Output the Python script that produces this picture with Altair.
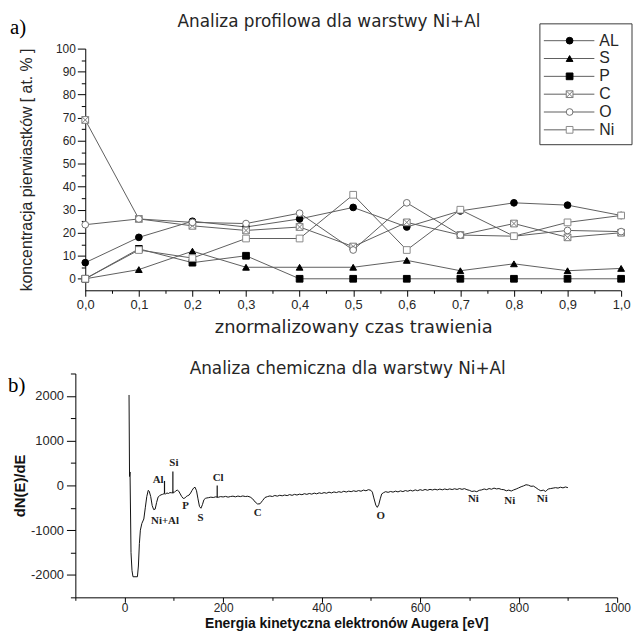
import altair as alt
import pandas as pd

# ---------------- panel a) : depth profile ----------------
t_vals = [0.0, 0.1, 0.2, 0.3, 0.4, 0.5, 0.6, 0.7, 0.8, 0.9, 1.0]
AL = [7, 18, 25, 22.5, 26, 31, 22.5, 29.5, 33, 32, 27.5]
S_ = [0, 4, 12, 5, 5, 5, 8, 3.5, 6.5, 3.5, 4.5]
P_ = [0, 13, 7, 10, 0, 0, 0, 0, 0, 0, 0]
C_ = [69, 26, 23, 21, 22.5, 14, 24.5, 19, 24, 18, 20]
O_ = [23.5, 26, 24.5, 24, 28.5, 12.5, 33, 19, 18.5, 21, 20.5]
Ni = [0, 12.5, 9, 17.5, 17.5, 36.5, 12.5, 30, 18.5, 24.5, 27.5]
series_names = ["AL", "S", "P", "C", "O", "Ni"]

# ---------------- panel b) : Auger spectrum ----------------
energy = [9, 10, 11, 13, 15, 17, 26, 28, 30, 32, 35, 39, 42, 45, 48, 50, 53, 56, 59, 62,
          65, 68, 71, 74, 77, 80, 83, 86, 89, 92, 95, 98, 101, 104, 107, 110, 113, 116, 119, 122,
          125, 128, 131, 134, 137, 140, 143, 146, 149, 152, 155, 158, 161, 164, 167,
          170, 175, 180, 185, 190, 195, 200, 205, 210, 215, 220, 225, 230, 235, 240, 245, 250,
          255, 260, 265, 270, 275, 280, 285, 290, 295, 300, 305, 310, 315, 320, 325, 330, 335,
          340, 345, 350, 355, 360, 365, 370, 375, 380, 385, 390, 395, 400, 405, 410, 415, 420,
          425, 430, 435, 440, 445, 450, 455, 460, 465, 470, 475, 480, 485, 490, 495, 500,
          503, 506, 510, 513, 516, 519, 522, 526, 530, 535, 540, 545, 550, 555, 560, 565, 570,
          575, 580, 585, 590, 595, 600, 605, 610, 615, 620, 625, 630, 635, 640, 645, 650, 655,
          660, 665, 670, 675, 680, 685, 690, 695, 700, 705, 710, 715, 720, 725, 730, 735, 740,
          745, 750, 755, 760, 765, 770, 775, 780, 785, 790, 795, 800, 805, 810, 815, 820, 825,
          830, 835, 840, 845, 850, 855, 860, 865, 870, 875, 880, 885, 890, 895, 900]
dnde = [2020, 200, 300, -1500, -1900, -2040, -2040, -1800, -1300, -1000, -850, -750, -500, -250, -110, -130,
        -250, -450, -540, -530, -380, -260, -230, -210, -200, -185, -190, -170, -180, -160, -165, -150,
        -155, -120, -105, -130, -190, -250, -290, -285, -250, -230, -215, -170, -110, -60, -40, -120,
        -300, -470, -510, -430, -320, -290, -280,
        -275, -262, -270, -255, -265, -250, -258, -245, -262, -248, -240, -255, -238, -250, -235, -248, -242,
        -260, -300, -370, -415, -410, -340, -270, -250, -235, -248, -225, -240, -220, -232, -215, -228, -205,
        -222, -200, -215, -195, -208, -185, -200, -180, -195, -172, -188, -165, -180, -160, -175, -150, -168,
        -145, -160, -140, -155, -130, -148, -128, -140, -120, -135, -115, -130, -105, -120, -95, -110,
        -150, -280, -440, -490, -430, -300, -190, -160, -140, -155, -135, -150, -128, -145, -122, -138, -115,
        -130, -108, -125, -100, -118, -95, -112, -90, -108, -88, -102, -85, -100, -82, -98, -80, -95,
        -78, -92, -75, -90, -70, -88, -72, -95, -110, -135, -125, -140, -110, -100, -80, -95, -70,
        -85, -60, -78, -70, -90, -95, -120, -105, -125, -100, -80, -55, -30, -10, 15, 5, -20,
        -15, -50, -90, -120, -105, -135, -80, -70, -60, -50, -60, -40, -55, -35, -50]

peak_labels = ["Ni+Al", "Al", "Si", "P", "S", "Cl", "C", "O", "Ni", "Ni", "Ni"]
peak_label_E = [82, 68, 100, 124, 154, 190, 270, 520, 708, 782, 848]
peak_label_y = [-800, 130, 490, -470, -730, 160, -620, -690, -310, -355, -310]

marker_E = [81, 98, 188]
marker_top = [100, 310, 0]
marker_bottom = [-180, -180, -270]

title_a = "Analiza profilowa dla warstwy Ni+Al"
title_b = "Analiza chemiczna dla warstwy Ni+Al"

# ---------------- tables ----------------
rows = []
for name, vals in zip(series_names, [AL, S_, P_, C_, O_, Ni]):
    for x, v in zip(t_vals, vals):
        rows.append({"t": x, "v": v, "series": name})
dfa = pd.DataFrame(rows)
dleg = pd.DataFrame({"series": series_names, "row": list(range(len(series_names)))})

dspec = pd.DataFrame({"E": energy, "dN": dnde})
dlab = pd.DataFrame({"E": peak_label_E, "dN": peak_label_y, "lab": peak_labels})
dmark = pd.DataFrame({"E": marker_E, "dN": marker_top, "dN2": marker_bottom})

SANS = "Liberation Sans"
SERIF = "Liberation Serif"
WIDE = "DejaVu Sans"
TXT = "#262626"

X_SQ = "M-1,-1H1V1H-1Z M-1,-1L1,1 M1,-1L-1,1"
shape_sc = alt.Scale(domain=series_names,
                     range=["circle", "triangle-up", "square", X_SQ, "circle", "square"])
fill_sc = alt.Scale(domain=series_names,
                    range=["#000000", "#000000", "#000000", "#ffffff", "#ffffff", "#ffffff"])
stroke_sc = alt.Scale(domain=series_names,
                      range=["#000000", "#000000", "#000000", "#7a7a7a", "#707070", "#8a8a8a"])


def text_layer(s, x, y, **kw):
    return alt.Chart(pd.DataFrame({"s": [s]})).mark_text(**kw).encode(
        x=alt.value(x), y=alt.value(y), text="s:N")


# panel a) view: shares its left edge with panel b); its own axes start 10 px to the right
W_A, H_A, SHIFT = 551, 244, 10

major_a_x = "round(datum.value*100) % 10 == 0"
xa_axis = alt.Axis(
    values=[i / 20 for i in range(21)],
    title="znormalizowany czas trawienia",
    labelExpr=f"{major_a_x} ? replace(format(datum.value, '.1f'), '.', ',') : ''",
    tickSize={"condition": {"test": major_a_x, "value": 6}, "value": 3},
    labelFont=SANS, labelFontSize=13, labelColor=TXT, labelPadding=2,
    titleFont=WIDE, titleFontSize=18, titleFontWeight="normal", titleColor=TXT, titlePadding=8,
    domain=False,
    grid=False, tickColor="#000", labelFlush=False, labelOverlap=False)
major_a_y = "datum.value % 10 == 0"
ya_axis = alt.Axis(
    values=list(range(0, 101, 5)),
    title="koncentracja pierwiastków [ at. % ]",
    labelExpr=f"{major_a_y} ? '' + datum.value : ''",
    tickSize={"condition": {"test": major_a_y, "value": 8}, "value": 4},
    labelFont=SANS, labelFontSize=12, labelColor=TXT, labelPadding=2,
    titleFont=SANS, titleFontSize=16, titleFontWeight="normal", titleColor=TXT,
    titlePadding=21, offset=-SHIFT,
    grid=False, domainColor="#000", tickColor="#000", labelFlush=False, labelOverlap=False)

xa = alt.X("t:Q", scale=alt.Scale(domain=[0, 1], range=[SHIFT, W_A], nice=False, zero=False),
           axis=xa_axis)
ya_scale = alt.Scale(domain=[-5, 100], nice=False, zero=False)

lines_a = alt.Chart(dfa).mark_line(color="#5e5e5e", strokeWidth=1).encode(
    x=xa, y=alt.Y("v:Q", scale=ya_scale, axis=ya_axis), detail="series:N")
points_a = alt.Chart(dfa).mark_point(filled=True, size=46, strokeWidth=1, opacity=1).encode(
    x=xa, y=alt.Y("v:Q", scale=ya_scale, axis=None),
    shape=alt.Shape("series:N", scale=shape_sc, legend=None),
    fill=alt.Fill("series:N", scale=fill_sc, legend=None),
    stroke=alt.Stroke("series:N", scale=stroke_sc, legend=None))
x_line = alt.Chart(pd.DataFrame({"k": [0]})).mark_rule(color="#000", strokeWidth=1).encode(
    x=alt.value(SHIFT), x2=alt.value(W_A), y=alt.value(H_A + 0.5))

box = alt.Chart(pd.DataFrame({"k": [0]})).mark_rect(fill="white", stroke="#3a3a3a", strokeWidth=1).encode(
    x=alt.value(469), x2=alt.value(562), y=alt.value(-25), y2=alt.value(97))
leg_y = alt.Y("row:Q", scale=alt.Scale(domain=[0, 5], range=[-8, 82]), axis=None)
leg_rule = alt.Chart(dleg).mark_rule(color="#5e5e5e", strokeWidth=1).encode(
    x=alt.value(473), x2=alt.value(524), y=leg_y)
leg_pt = alt.Chart(dleg).mark_point(filled=True, size=46, strokeWidth=1, opacity=1).encode(
    x=alt.value(499), y=leg_y,
    shape=alt.Shape("series:N", scale=shape_sc, legend=None),
    fill=alt.Fill("series:N", scale=fill_sc, legend=None),
    stroke=alt.Stroke("series:N", scale=stroke_sc, legend=None))
leg_txt = alt.Chart(dleg).mark_text(align="left", baseline="middle", font=SANS, fontSize=16,
                                    color=TXT).encode(
    x=alt.value(529), y=leg_y, text="series:N")
lab_a = text_layer("a)", -66, -15, align="left", baseline="alphabetic", font=SERIF, fontSize=21,
                   color="#000")
tit_a = text_layer(title_a, 256, -27, align="center", baseline="middle", font=WIDE, fontSize=17,
                   color=TXT)

top = alt.layer(lines_a, points_a, x_line, box, leg_rule, leg_pt, leg_txt, lab_a, tit_a).resolve_scale(
    y="independent").properties(width=W_A, height=H_A)

# ---------------- panel b) chart ----------------
major_b_x = "datum.value % 200 == 0"
xb_axis = alt.Axis(
    values=list(range(-100, 1001, 100)),
    title="Energia kinetyczna elektronów Augera [eV]",
    labelExpr=f"{major_b_x} ? '' + datum.value : ''",
    tickSize={"condition": {"test": major_b_x, "value": 5}, "value": 3},
    labelFont=SANS, labelFontSize=12, labelColor=TXT, labelPadding=0,
    titleFont=SANS, titleFontSize=14, titleFontWeight="bold", titleColor="#111", titlePadding=3,
    grid=False, domainColor="#000", tickColor="#000", labelFlush=False, labelOverlap=False)
major_b_y = "datum.value % 1000 == 0"
yb_axis = alt.Axis(
    values=list(range(-2500, 2501, 500)),
    title="dN(E)/dE",
    labelExpr=f"{major_b_y} ? '' + datum.value : ''",
    tickSize={"condition": {"test": major_b_y, "value": 9}, "value": 5},
    labelFont=SANS, labelFontSize=13, labelColor=TXT, labelPadding=3,
    titleFont=SANS, titleFontSize=15, titleFontWeight="bold", titleColor="#111", titlePadding=3,
    grid=False, domainColor="#000", tickColor="#000", labelFlush=False, labelOverlap=False)

xb = alt.X("E:Q", scale=alt.Scale(domain=[-100, 1000], nice=False, zero=False), axis=xb_axis)
yb = alt.Y("dN:Q", scale=alt.Scale(domain=[-2500, 2500], nice=False, zero=False), axis=yb_axis)

spec = alt.Chart(dspec).mark_line(color="#111111", strokeWidth=1).encode(x=xb, y=yb)
marks_b = alt.Chart(dmark).mark_rule(color="#111111", strokeWidth=1.2).encode(x=xb, y=yb, y2="dN2:Q")
labels_b = alt.Chart(dlab).mark_text(font=SERIF, fontSize=11, fontWeight="bold", color="#222",
                                     baseline="middle", align="center").encode(x=xb, y=yb, text="lab:N")
lab_b = text_layer("b)", -68, 19, align="left", baseline="alphabetic", font=SERIF, fontSize=21,
                   color="#000")
tit_b = text_layer(title_b, 275, -4, align="center", baseline="middle", font=WIDE, fontSize=17,
                   color=TXT)

bottom = alt.layer(spec, marks_b, labels_b, lab_b, tit_b).properties(width=547, height=226)

chart = alt.vconcat(top, bottom, spacing=24).properties(
    padding={"left": 0, "top": 2, "right": 0, "bottom": 0}
).configure_view(stroke=None)

chart.save("out.html", embed_options={"renderer": "svg", "actions": False})
